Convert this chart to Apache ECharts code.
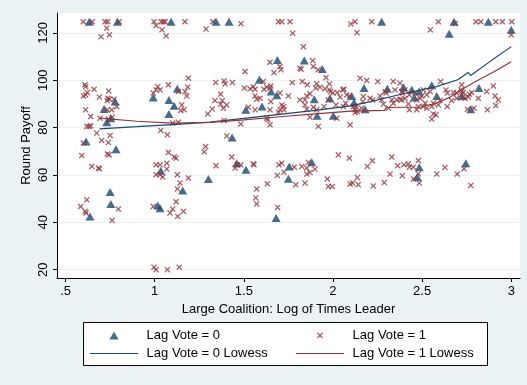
<!DOCTYPE html>
<html>
<head>
<meta charset="utf-8">
<script src="https://cdn.jsdelivr.net/npm/echarts@6/dist/echarts.min.js"></script>
<style>
html, body { margin: 0; padding: 0; background: #eaf2f3; }
#chart { width: 527px; height: 385px; }
</style>
</head>
<body>
<div id="chart"></div>
<script>
// Lag Vote = 0 (triangles): [log times leader, round payoff]
var vote0 = [
  [0.633,124.7],[0.791,124.7],[1.092,124.7],[1.344,124.7],[1.417,124.7],[2.273,124.7],[2.679,124.7],[2.871,124.7],
  [2.652,119.6],[3.000,121.3],[1.127,96.4],[0.992,92.7],[1.080,91.7],[1.109,89.2],[0.778,91.0],[0.716,87.9],
  [0.754,84.0],[0.731,82.3],[1.080,85.7],[0.615,74.1],[0.783,70.9],
  [1.688,108.6],[1.839,108.3],[1.940,104.8],[1.587,100.2],[1.653,95.2],[1.685,93.7],[1.895,92.0],[1.983,92.4],
  [2.105,93.4],[2.118,90.6],[1.511,87.5],[1.602,88.9],[1.911,85.0],[2.002,85.0],[1.434,75.8],
  [2.174,96.7],[2.305,96.4],[2.395,97.1],[2.442,96.0],[2.483,95.2],[2.554,97.9],[2.582,93.4],[2.456,92.7],
  [2.722,93.4],[2.819,96.7],[2.180,87.8],[2.773,87.8],
  [1.034,61.8],[1.157,53.5],[1.301,58.3],[0.750,52.8],[0.754,47.8],[0.637,42.5],[1.017,47.1],[1.030,46.0],
  [1.460,65.0],[1.512,62.2],[1.755,63.6],[1.750,58.4],[1.881,65.4],[1.681,41.8],[2.484,63.3],[2.473,59.1],[2.745,65.0]
];

// Lag Vote = 1 (x marks)
var vote1 = [
  [0.600,124.7],[0.650,124.7],[0.722,124.7],[0.737,124.7],[0.800,124.7],[0.996,124.7],[1.036,124.7],[1.049,124.7],
  [1.058,124.7],[1.170,124.7],[1.326,124.7],[1.694,124.7],[1.713,124.7],[1.759,124.7],[2.124,124.7],[2.217,124.7],
  [2.591,124.7],[2.802,124.7],[2.829,124.7],[2.913,124.7],[2.950,124.7],[3.003,124.7],
  [1.484,123.9],[2.100,123.8],[2.686,124.0],
  [0.731,122.0],[0.699,118.4],[0.746,119.2],[1.008,123.1],[1.041,121.3],[1.064,118.7],[1.288,121.6],
  [1.774,119.9],[2.135,120.1],[1.834,114.2],[2.546,121.3],[3.000,119.2],
  [0.609,98.1],[0.613,97.3],[0.622,94.8],[0.600,93.4],[0.613,93.8],[0.660,96.2],[0.690,92.9],[0.742,95.5],
  [0.737,92.4],[0.746,92.0],[0.734,91.4],[0.772,92.0],[0.787,88.9],[0.613,87.5],[0.641,84.7],[0.734,87.5],
  [0.759,87.5],[0.693,84.0],[0.740,83.6],[0.762,84.4],[0.619,80.5],[0.632,80.5],[0.641,80.8],[0.675,77.7],
  [0.703,74.6],[0.750,76.7],[0.740,73.7],[0.600,73.5],
  [1.017,97.3],[1.008,95.9],[1.030,95.9],[0.992,94.6],[1.077,98.1],[1.133,95.2],[1.170,95.2],[1.185,97.1],
  [1.189,100.9],[1.180,93.4],[1.152,89.6],[1.146,87.2],[1.165,87.5],[1.101,81.9],[1.133,82.3],[1.034,78.8],
  [1.071,77.0],[1.298,85.8],[1.286,72.0],
  [0.591,68.2],[0.647,63.6],[0.684,62.9],[0.690,62.6],[0.734,68.9],[0.744,68.5],[1.077,69.5],[1.109,67.6],
  [1.120,67.1],[1.278,69.8],[1.008,64.3],[1.030,64.3],[1.068,65.0],[1.068,62.5],[1.008,60.1],[1.030,60.1],
  [1.045,59.1],[1.127,60.1],[1.142,56.6],[1.189,58.7],[1.127,54.1],[1.120,48.7],[1.101,45.6],[1.086,43.9],
  [1.129,42.5],[1.161,44.6],[0.619,49.5],[0.585,46.7],[0.611,44.6],[0.615,43.9],[0.761,40.8],[0.796,45.6],
  [0.992,46.7],
  [0.996,21.0],[1.008,20.0],[1.071,20.0],[1.138,21.0],
  [1.647,107.6],[1.703,105.8],[1.708,104.4],[1.669,103.2],[1.815,105.1],[1.821,104.7],[1.886,108.3],[1.890,105.8],
  [1.916,104.4],[1.961,101.1],[1.507,103.7],[1.342,99.0],[1.389,99.7],[1.395,98.5],[1.436,99.0],[1.609,99.5],
  [1.772,99.0],[1.828,99.5],[1.856,98.1],[1.909,98.5],[1.980,98.5],[2.152,100.9],[1.503,96.7],[1.535,96.4],
  [1.553,97.3],[1.563,96.2],[1.613,96.2],[1.628,97.1],[1.651,97.6],[1.647,96.7],[1.370,94.1],[1.379,91.4],
  [1.338,91.4],[1.370,89.9],[1.385,88.2],[1.404,89.6],[1.323,87.9],[1.563,93.4],[1.573,92.0],[1.591,92.4],
  [1.651,91.0],[1.750,93.4],[1.703,94.6],[1.815,91.7],[1.843,91.7],[1.853,93.4],[1.871,94.3],[1.903,96.7],
  [1.927,97.1],[1.955,96.4],[1.980,95.9],[1.987,95.2],[1.999,94.6],[2.024,94.8],[2.055,96.0],[2.062,96.2],
  [2.077,93.8],[1.974,91.7],[2.040,92.9],[2.092,93.4],[1.525,88.6],[1.647,87.5],[1.713,89.6],[1.722,88.9],
  [1.703,87.5],[1.694,86.5],[1.725,87.5],[1.563,87.5],[1.843,89.6],[1.853,87.8],[1.890,88.6],[1.909,87.5],
  [1.950,88.9],[2.058,88.9],[2.017,89.6],[2.071,90.3],[2.129,88.9],[2.125,86.4],[1.628,84.0],[1.634,83.3],
  [1.647,81.2],[1.483,81.5],[1.389,83.0],[1.871,84.4],[1.918,80.5],[2.021,84.0],[2.096,81.2],[2.137,86.8],
  [1.404,76.5],
  [1.432,67.6],[1.344,63.9],[1.451,62.9],[1.464,64.3],[1.483,64.3],[1.553,64.7],[1.557,64.3],[1.697,64.3],
  [1.713,65.0],[1.688,59.8],[1.725,61.2],[1.783,63.3],[1.825,63.6],[1.853,62.9],[1.862,65.3],[1.871,61.1],
  [1.853,60.4],[1.899,62.5],[1.632,56.3],[1.572,54.1],[1.567,50.3],[1.572,47.8],[1.690,46.3],[1.791,55.9],
  [1.843,56.6],[1.968,58.3],[1.974,55.1],[1.996,55.1],[2.030,68.5],[2.092,67.1],[2.096,56.2],[2.111,56.6],
  [2.137,58.9],[2.142,55.9],
  [2.193,63.6],[2.221,66.0],[2.330,67.6],[2.363,63.9],[2.398,64.3],[2.423,64.7],[2.429,63.3],[2.451,63.3],
  [2.479,66.1],[2.479,60.5],[2.484,56.6],[2.451,58.3],[2.389,59.7],[2.320,60.4],[2.288,56.8],[2.226,55.4],
  [2.582,60.4],[2.628,63.2],[2.697,60.4],[2.735,62.6],[2.773,55.6],
  [2.189,99.9],[2.251,99.5],[2.338,99.5],[2.376,98.8],[2.604,99.5],[2.899,97.6],[2.170,93.1],[2.167,91.0],
  [2.208,92.4],[2.223,91.7],[2.264,93.4],[2.292,95.2],[2.298,94.6],[2.348,95.9],[2.386,95.2],[2.391,94.6],
  [2.404,95.9],[2.428,93.8],[2.507,95.9],[2.526,93.8],[2.498,93.4],[2.460,94.6],[2.545,95.2],[2.634,95.9],
  [2.641,94.6],[2.675,94.8],[2.694,94.6],[2.718,95.9],[2.731,94.8],[2.740,92.4],[2.759,92.9],[2.778,94.8],
  [2.815,92.4],[2.862,95.2],[2.909,93.4],[2.927,91.7],[2.913,89.3],[2.866,87.5],[2.376,92.0],[2.386,91.7],
  [2.404,92.4],[2.428,87.5],[2.470,87.5],[2.479,88.9],[2.517,90.3],[2.507,88.9],[2.526,88.2],[2.554,88.9],
  [2.563,90.3],[2.591,89.6],[2.601,91.4],[2.641,88.9],[2.666,91.4],[2.694,92.4],[2.563,85.8],[2.578,85.4],
  [2.554,83.6],[2.423,90.0],[2.358,91.7],[2.160,88.2],[2.124,87.5],[2.114,88.9],[2.273,91.7],[2.283,89.9],
  [2.330,91.7],[2.311,88.2],[2.338,90.3],[2.470,91.7],[2.489,92.4],
  [2.765,94.1],[2.754,87.8],[2.791,88.2],[2.722,98.1],[2.722,95.2],[2.731,93.1]
];

// lowess curves
var lowess0X = [0.69, 0.9, 1.1, 1.31, 1.5, 1.7, 1.9, 2.1, 2.21, 2.4, 2.58, 2.7, 2.758, 2.772, 2.89, 3.0];
var lowess0Y = [79.5, 80.4, 81.3, 82.3, 83.9, 85.6, 87.3, 89.2, 91.0, 94.4, 97.3, 100.2, 103.3, 102.0, 108.4, 114.2];
var lowess1X = [0.69, 0.9, 1.1, 1.31, 1.5, 1.7, 1.9, 2.1, 2.29, 2.30, 2.49, 2.58, 2.66, 2.72, 2.8, 2.9, 3.0];
var lowess1Y = [84.0, 82.7, 81.9, 82.2, 83.3, 84.6, 85.8, 87.0, 87.3, 88.5, 88.7, 90.3, 93.0, 96.0, 99.5, 103.5, 107.8];

var xTicks = [0.5, 1, 1.5, 2, 2.5, 3];
var yTicks = [20, 40, 60, 80, 100, 120];

var navy = '#1a476f';
var maroon = '#90353b';
var font = "'Liberation Sans', Arial, sans-serif";
var xMark = 'path://M0,1.5L1.5,0L5,3.5L8.5,0L10,1.5L6.5,5L10,8.5L8.5,10L5,6.5L1.5,10L0,8.5L3.5,5Z';
var triIcon = 'path://M5,0L10,8.7L0,8.7Z';
var blankIcon = 'path://M0,0L48,0L48,1L0,1Z';

function zip(xs, ys) {
  return xs.map(function (x, i) { return [x, ys[i]]; });
}
function withSpace(name) { return ' ' + name; }

// legend key line for the lowess entries
function keyLine(x, color) {
  return {
    type: 'line', z: 10,
    shape: { x1: x, y1: 353.5, x2: x + 48, y2: 353.5 },
    style: { stroke: color, lineWidth: 1.2 }
  };
}

var chart = echarts.init(document.getElementById('chart'));
var legendText = { fontFamily: font, fontSize: 13, color: '#000', lineHeight: 15 };
var hidden = { color: 'rgba(0,0,0,0)', borderWidth: 0 };

chart.setOption({
  animation: false,
  backgroundColor: '#eaf2f3',
  textStyle: { fontFamily: font },
  grid: {
    left: 57, top: 13, right: 7, bottom: 107,
    show: true, backgroundColor: '#fff', borderWidth: 0
  },
  graphic: [{
    type: 'rect', z: 1,
    shape: { x: 83.5, y: 322.5, width: 404, height: 43 },
    style: { fill: '#fff', stroke: '#000', lineWidth: 1 }
  }, keyLine(90, navy), keyLine(296, maroon)],
  legend: [{
    z: 5, orient: 'vertical', left: 90, top: 328, padding: 0,
    itemWidth: 48, itemHeight: 8, itemGap: 3,
    textStyle: legendText, formatter: withSpace,
    data: [
      { name: 'Lag Vote = 0', icon: triIcon, itemStyle: { color: navy, borderWidth: 0 } },
      { name: 'Lag Vote = 0 Lowess', icon: blankIcon, itemStyle: hidden }
    ]
  }, {
    z: 5, orient: 'vertical', left: 296, top: 328, padding: 0,
    itemWidth: 48, itemHeight: 6, itemGap: 3,
    textStyle: legendText, formatter: withSpace,
    data: [
      { name: 'Lag Vote = 1', icon: xMark, itemStyle: { color: maroon, borderWidth: 0 } },
      { name: 'Lag Vote = 1 Lowess', icon: blankIcon, itemStyle: hidden }
    ]
  }],
  xAxis: {
    type: 'value', min: 0.452, max: 3.049,
    name: 'Large Coalition: Log of Times Leader',
    nameLocation: 'middle', nameGap: 21,
    nameTextStyle: { fontFamily: font, fontSize: 13, color: '#000' },
    axisLine: { onZero: false, lineStyle: { color: '#000', width: 1 } },
    axisTick: { length: 4, customValues: xTicks, lineStyle: { color: '#000' } },
    axisLabel: {
      customValues: xTicks, margin: 7, fontFamily: font, fontSize: 13, color: '#000',
      formatter: function (v) { return v === 0.5 ? '.5' : String(v); }
    },
    splitLine: { show: false }
  },
  yAxis: {
    type: 'value', min: 16.5, max: 128.4,
    name: 'Round Payoff',
    nameLocation: 'middle', nameGap: 24, nameMoveOverlap: false,
    nameTextStyle: { fontFamily: font, fontSize: 13, color: '#000' },
    axisLine: { show: true, onZero: false, lineStyle: { color: '#000', width: 1 } },
    axisTick: { show: true, length: 4, customValues: yTicks, lineStyle: { color: '#000' } },
    axisLabel: {
      customValues: yTicks, rotate: 90, margin: 7, fontFamily: font, fontSize: 13, color: '#000'
    },
    splitLine: { show: true, lineStyle: { color: '#eaf2f3', width: 1 } }
  },
  series: [{
    name: 'Lag Vote = 0', type: 'scatter',
    symbol: 'triangle', symbolSize: [9, 8],
    itemStyle: { color: navy },
    data: vote0
  }, {
    name: 'Lag Vote = 1', type: 'scatter',
    symbol: xMark, symbolSize: 6,
    itemStyle: { color: maroon },
    data: vote1
  }, {
    name: 'Lag Vote = 0 Lowess', type: 'line',
    symbol: 'none', showSymbol: false,
    lineStyle: { color: navy, width: 1.2 },
    itemStyle: { color: navy },
    data: zip(lowess0X, lowess0Y)
  }, {
    name: 'Lag Vote = 1 Lowess', type: 'line',
    symbol: 'none', showSymbol: false,
    lineStyle: { color: maroon, width: 1.2 },
    itemStyle: { color: maroon },
    data: zip(lowess1X, lowess1Y)
  }]
});
</script>
</body>
</html>
